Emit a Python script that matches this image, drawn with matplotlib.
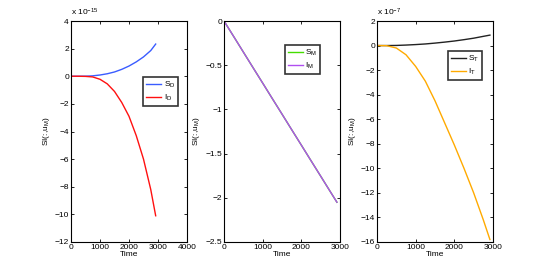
import matplotlib
matplotlib.use("Agg")
import matplotlib.pyplot as plt

plt.rcParams["font.family"] = ["Liberation Sans", "DejaVu Sans"]
plt.rcParams["mathtext.fontset"] = "custom"
plt.rcParams["mathtext.rm"] = "Liberation Sans"
plt.rcParams["mathtext.it"] = "Liberation Sans"

# time grid (days)
time = [0, 250, 500, 750, 1000, 1250, 1500, 1750, 2000, 2250, 2500, 2750, 2920]

# panel 1 (units of 1e-15)
s_d = [0, 0.0, 0.005, 0.03, 0.09, 0.18, 0.31, 0.5, 0.74, 1.04, 1.4, 1.86, 2.33]
i_d = [0, 0.0, -0.01, -0.05, -0.22, -0.55, -1.1, -1.9, -2.9, -4.3, -6.0, -8.2, -10.1]

# panel 2
s_m = [0, -0.175, -0.351, -0.527, -0.702, -0.878, -1.053, -1.229, -1.404, -1.58, -1.755, -1.931, -2.05]
i_m = [0, -0.175, -0.351, -0.527, -0.702, -0.878, -1.053, -1.229, -1.404, -1.58, -1.755, -1.931, -2.05]

# panel 3 (units of 1e-7)
s_t = [0, 0.0, 0.01, 0.04, 0.08, 0.13, 0.2, 0.28, 0.37, 0.48, 0.6, 0.75, 0.85]
i_t = [0, -0.01, -0.2, -0.75, -1.7, -2.9, -4.5, -6.3, -8.1, -10.0, -12.0, -14.2, -15.8]

FS = 6

fig = plt.figure(figsize=(5.45, 2.73), dpi=100)
W, H = 545, 273


def make_ax(left_px):
    ax = fig.add_axes([left_px / W, 1 - 242 / H, 116 / W, 221 / H])
    ax.tick_params(direction="in", top=True, right=True, labelsize=FS,
                   length=2.5, width=0.6, pad=1.5)
    for sp in ax.spines.values():
        sp.set_linewidth(0.8)
    ax.set_xlabel("Time", fontsize=FS, labelpad=0)
    ax.set_ylabel("SI(:,u$_M$)", fontsize=FS, labelpad=2)
    return ax


def add_legend(ax, labels, anchor):
    leg = ax.legend(labels, loc="upper left", bbox_to_anchor=anchor,
                    fontsize=FS, frameon=True, fancybox=False,
                    handlelength=1.8, handletextpad=0.3, borderpad=0.35,
                    labelspacing=0.35, borderaxespad=0)
    leg.get_frame().set_edgecolor("black")
    leg.get_frame().set_linewidth(1.2)


def minus_labels(vals):
    return [("\u2212" + str(abs(v))) if v < 0 else str(v) for v in vals]


# panel 1
ax1 = make_ax(71)
ax1.plot(time, s_d, color="#3a5cff", lw=1.0)
ax1.plot(time, i_d, color="#ff1010", lw=1.0)
ax1.set_xlim(0, 4000)
ax1.set_ylim(-12, 4)
ax1.set_xticks([0, 1000, 2000, 3000, 4000])
yt1 = list(range(-12, 5, 2))
ax1.set_yticks(yt1)
ax1.set_yticklabels(minus_labels(yt1))
ax1.text(0, 1.012, "x 10$^{-15}$", transform=ax1.transAxes, fontsize=FS,
         ha="left", va="bottom")
add_legend(ax1, ["S$_D$", "I$_D$"], (0.623, 0.748))

# panel 2
ax2 = make_ax(224)
ax2.plot(time, s_m, color="#44dd00", lw=1.0)
ax2.plot(time, i_m, color="#b04ff0", lw=1.0)
ax2.set_xlim(0, 3000)
ax2.set_ylim(-2.5, 0)
ax2.set_xticks([0, 1000, 2000, 3000])
ax2.set_yticks([-2.5, -2, -1.5, -1, -0.5, 0])
ax2.set_yticklabels(["\u22122.5", "\u22122", "\u22121.5", "\u22121", "\u22120.5", "0"])
add_legend(ax2, ["S$_M$", "I$_M$"], (0.526, 0.891))

# panel 3
ax3 = make_ax(377)
ax3.plot(time, s_t, color="#222222", lw=1.0)
ax3.plot(time, i_t, color="#ffaa00", lw=1.0)
ax3.set_xlim(0, 3000)
ax3.set_ylim(-16, 2)
ax3.set_xticks([0, 1000, 2000, 3000])
yt3 = list(range(-16, 3, 2))
ax3.set_yticks(yt3)
ax3.set_yticklabels(minus_labels(yt3))
ax3.text(0, 1.012, "x 10$^{-7}$", transform=ax3.transAxes, fontsize=FS,
         ha="left", va="bottom")
add_legend(ax3, ["S$_T$", "I$_T$"], (0.61, 0.866))

fig.savefig("out.png", dpi=100)
